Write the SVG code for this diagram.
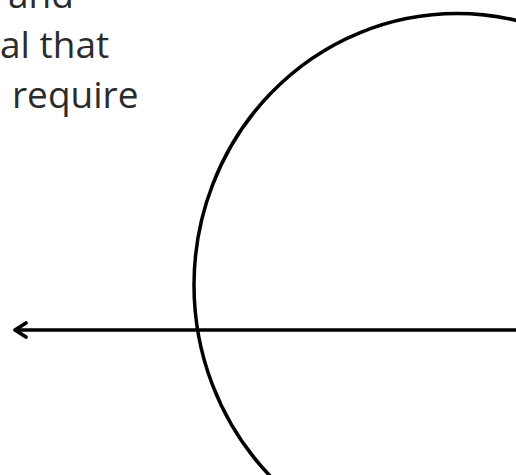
<svg xmlns="http://www.w3.org/2000/svg" width="516" height="475" viewBox="0 0 516 475">
  <style>
    .txt { font-family: "Open Sans", "Noto Sans", "Liberation Sans", sans-serif; font-size: 37px; fill: #2b2b2b; }
    .shape { fill: none; stroke: #000; stroke-width: 3.5; }
    .conn { fill: none; stroke: #000; stroke-width: 3.6; }
  </style>
  <defs>
    <marker id="chev" viewBox="-15 -11 19 22" markerWidth="19" markerHeight="22" refX="0" refY="0" orient="auto" markerUnits="userSpaceOnUse">
      <path d="M -11 -7 L 0 0 L -11 7" fill="none" stroke="#000" stroke-width="3.8" stroke-linecap="round" stroke-linejoin="round"/>
    </marker>
  </defs>
  <rect width="516" height="475" fill="#fff"/>
  <g id="caption">
    <text class="txt" x="8" y="8">and</text>
    <text class="txt" x="0" y="58">al that</text>
    <text class="txt" x="12" y="108">require</text>
  </g>
  <g id="circle">
    <ellipse class="shape" cx="457" cy="285" rx="263" ry="271.5"/>
  </g>
  <g id="connectors">
    <line class="conn" x1="516" y1="330" x2="15" y2="330" marker-end="url(#chev)"/>
  </g>
</svg>
